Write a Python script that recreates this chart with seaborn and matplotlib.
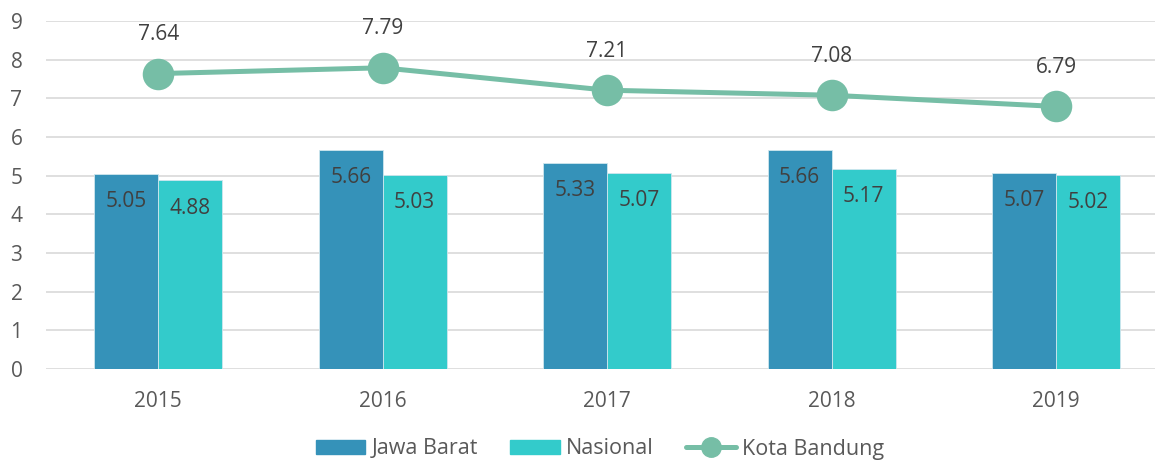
import matplotlib
matplotlib.use("Agg")
import matplotlib.pyplot as plt
import pandas as pd
import seaborn as sns
from matplotlib.lines import Line2D

YEARS = ["2015", "2016", "2017", "2018", "2019"]
JAWA_BARAT = [5.05, 5.66, 5.33, 5.66, 5.07]
NASIONAL = [4.88, 5.03, 5.07, 5.17, 5.02]
KOTA_BANDUNG = [7.64, 7.79, 7.21, 7.08, 6.79]

C_JABAR = "#3592B9"
C_NAS = "#33CBCB"
C_LINE = "#76BEA6"
C_TEXT = "#404040"
C_TICK = "#595959"

sns.set_theme(style="white")
plt.rcParams["font.family"] = ["Open Sans", "DejaVu Sans"]

bars = pd.DataFrame({
    "year": YEARS * 2,
    "value": JAWA_BARAT + NASIONAL,
    "series": ["Jawa Barat"] * len(YEARS) + ["Nasional"] * len(YEARS),
})
line = pd.DataFrame({"year": YEARS, "value": KOTA_BANDUNG})

fig = plt.figure(figsize=(11.55, 4.62), dpi=100)
ax = fig.add_axes([46 / 1155, 1 - 369 / 462, 1 - 46 / 1155, (369 - 21) / 462])

sns.barplot(data=bars, x="year", y="value", hue="series", order=YEARS,
            palette=[C_JABAR, C_NAS], width=0.57, saturation=1,
            edgecolor="#CFE6EE", linewidth=0.6, ax=ax, zorder=2)
sns.pointplot(data=line, x="year", y="value", order=YEARS, color=C_LINE,
              markers="o", markersize=20, linewidth=3.6, ax=ax, zorder=3)

# label batang: di dalam, dekat ujung atas
for cont in ax.containers:
    for p in cont.patches:
        ax.annotate(f"{p.get_height():.2f}",
                    (p.get_x() + p.get_width() / 2, p.get_height()),
                    xytext=(0, -20), textcoords="offset points",
                    ha="center", va="center", fontsize=15, color=C_TEXT)

for i, v in enumerate(line["value"]):
    ax.annotate(f"{v:.2f}", (i, v), xytext=(0, 28), textcoords="offset points",
                ha="center", va="center", fontsize=15, color=C_TEXT)

ax.set_ylim(0, 9)
ax.set_yticks(range(0, 10))
ax.set_xlim(-0.5, (1155 - 158) / 224.5)
ax.yaxis.grid(True, color="#D9D9D9", linewidth=1.2, zorder=0)
ax.set_axisbelow(True)
ax.set_xlabel("")
ax.set_ylabel("")
for s in ax.spines.values():
    s.set_visible(False)
ax.tick_params(axis="y", length=0, pad=17, labelsize=15, labelcolor=C_TICK)
ax.tick_params(axis="x", length=0, pad=16, labelsize=15, labelcolor=C_TICK)

leg = ax.get_legend()
if leg is not None:
    leg.remove()
handles = [
    plt.Rectangle((0, 0), 1, 1, color=C_JABAR),
    plt.Rectangle((0, 0), 1, 1, color=C_NAS),
    Line2D([0], [0], color=C_LINE, lw=3.6, marker="o", markersize=14),
]
fig.legend(handles, ["Jawa Barat", "Nasional", "Kota Bandung"],
           loc="center", bbox_to_anchor=(600 / 1155, 1 - 449 / 462), ncol=3,
           frameon=False, fontsize=15.5, labelcolor=C_TICK,
           handlelength=2.3, handleheight=0.6, handletextpad=0.3,
           columnspacing=1.5, borderpad=0.2)

fig.savefig("out.png", dpi=100)
